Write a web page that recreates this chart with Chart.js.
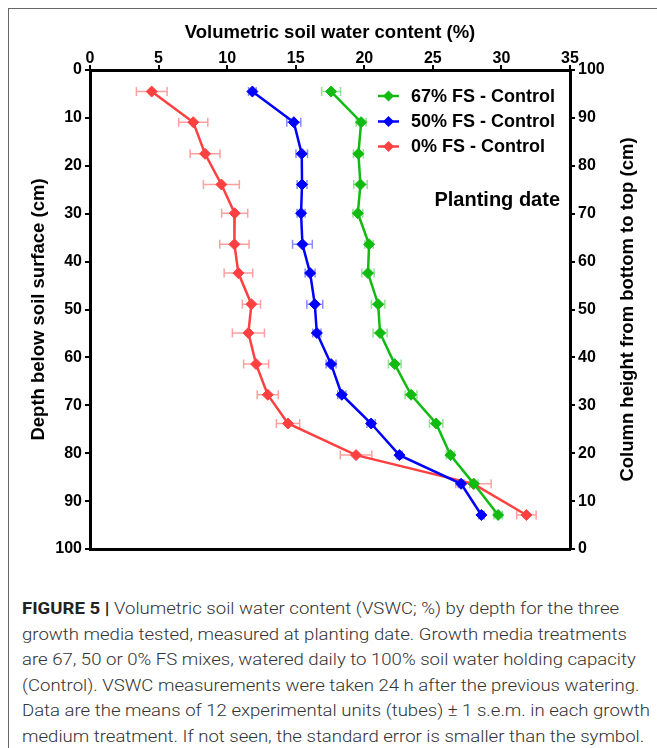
<!DOCTYPE html>
<html>
<head>
<meta charset="utf-8">
<script src="https://cdn.jsdelivr.net/npm/chart.js@4/dist/chart.umd.min.js"></script>
<style>
  html, body { margin: 0; padding: 0; background: #fff; }
  body { width: 657px; height: 748px; position: relative; overflow: hidden; }
  #frame { position: absolute; left: 8px; top: 8px; width: 700px; height: 800px; border-left: 1.5px solid #666; border-top: 1.5px solid #666; }
  #wrap { position: absolute; left: 0; top: 0; width: 657px; height: 580px; }
  #caption { position: absolute; left: 22px; top: 596px; font-family: Roboto, "Liberation Sans", sans-serif; font-weight: 300; font-size: 17px; line-height: 25.5px; color: #333; white-space: nowrap; transform-origin: 0 0; }
  #caption b { font-weight: 700; color: #222; }
</style>
</head>
<body>
<div id="frame"></div>
<div id="wrap"><canvas id="c"></canvas></div>
<div id="caption">
<div><b>FIGURE 5 |</b> Volumetric soil water content (VSWC; %) by depth for the three</div>
<div>growth media tested, measured at planting date. Growth media treatments</div>
<div id="l3">are 67, 50 or 0% FS mixes, watered daily to 100% soil water holding capacity</div>
<div>(Control). VSWC measurements were taken 24 h after the previous watering.</div>
<div>Data are the means of 12 experimental units (tubes) ± 1 s.e.m. in each growth</div>
<div>medium treatment. If not seen, the standard error is smaller than the symbol.</div>
</div>
<script>
// ---- data ----
const depths = [4.5, 10.9, 17.5, 23.9, 29.9, 36.4, 42.4, 48.9, 54.9, 61.4, 67.8, 73.8, 80.4, 86.4, 92.9];
const xTicks = [0, 5, 10, 15, 20, 25, 30, 35];
const depthTicks = [0, 10, 20, 30, 40, 50, 60, 70, 80, 90, 100];

const fs67 = [17.58, 19.77, 19.57, 19.72, 19.53, 20.35, 20.27, 21.01, 21.15, 22.22, 23.41, 25.24, 26.28, 27.99, 29.76];
const fs67Err = [0.69, 0.36, 0.36, 0.49, 0.36, 0.30, 0.45, 0.49, 0.51, 0.46, 0.43, 0.49, 0.30, 0.30, 0.30];

const fs50 = [11.84, 14.86, 15.44, 15.46, 15.39, 15.49, 16.05, 16.39, 16.54, 17.58, 18.36, 20.50, 22.56, 27.06, 28.54];
const fs50Err = [0.28, 0.51, 0.42, 0.36, 0.29, 0.72, 0.36, 0.58, 0.30, 0.36, 0.30, 0.30, 0.20, 0.20, 0.20];

const fs0 = [4.50, 7.53, 8.39, 9.58, 10.55, 10.53, 10.82, 11.77, 11.55, 12.11, 12.96, 14.44, 19.40, 27.96, 31.82];
const fs0Err = [1.12, 1.06, 1.09, 1.31, 0.95, 1.07, 1.04, 0.66, 1.17, 0.91, 0.77, 0.85, 1.15, 1.29, 0.71];

const seriesNames = ['67% FS - Control', '50% FS - Control', '0% FS - Control'];
const annotationText = 'Planting date';
const rightTitle = 'Column height from bottom to top (cm)';

// ---- styling ----
const colors = ['rgb(17,187,17)', 'rgb(0,0,255)', 'rgb(255,64,64)'];
const errColors = ['rgba(17,187,17,0.45)', 'rgba(0,0,255,0.45)', 'rgba(255,64,64,0.5)'];
const FONT = '"Liberation Sans", Arial, Helvetica, sans-serif';

function pts(vals) { return vals.map((v, i) => ({ x: v, y: depths[i] })); }
const values = [fs67, fs50, fs0];
const errs = [fs67Err, fs50Err, fs0Err];

const datasets = values.map((vals, k) => ({
  label: seriesNames[k],
  data: pts(vals),
  errors: errs[k],
  showLine: true,
  borderColor: colors[k],
  backgroundColor: colors[k],
  borderWidth: 2.5,
  pointStyle: 'rectRot',
  pointRadius: 5.5,
  pointBorderWidth: 1,
  pointBackgroundColor: colors[k],
  pointBorderColor: colors[k],
  xAxisID: 'x', yAxisID: 'y'
}));

const errorBars = {
  id: 'errorBars',
  beforeDatasetsDraw(chart) {
    const ctx = chart.ctx, xs = chart.scales.x, ys = chart.scales.y;
    ctx.save();
    chart.data.datasets.forEach((ds, k) => {
      ctx.strokeStyle = errColors[k];
      ctx.lineWidth = 1.5;
      ds.data.forEach((p, i) => {
        const e = ds.errors[i];
        const x1 = xs.getPixelForValue(p.x - e), x2 = xs.getPixelForValue(p.x + e);
        const y = ys.getPixelForValue(p.y);
        ctx.beginPath();
        ctx.moveTo(x1, y); ctx.lineTo(x2, y);
        ctx.moveTo(x1, y - 4.5); ctx.lineTo(x1, y + 4.5);
        ctx.moveTo(x2, y - 4.5); ctx.lineTo(x2, y + 4.5);
        ctx.stroke();
      });
    });
    ctx.restore();
  }
};

const customLegend = {
  id: 'customLegend',
  afterDraw(chart) {
    const ctx = chart.ctx;
    ctx.save();
    const rowY = [96, 121.5, 146.5];
    chart.data.datasets.forEach((ds, k) => {
      const y = rowY[k];
      ctx.strokeStyle = colors[k]; ctx.lineWidth = 2.5;
      ctx.beginPath(); ctx.moveTo(378, y); ctx.lineTo(399, y); ctx.stroke();
      ctx.fillStyle = colors[k];
      ctx.beginPath();
      ctx.moveTo(388.5, y - 5.5); ctx.lineTo(394, y); ctx.lineTo(388.5, y + 5.5); ctx.lineTo(383, y);
      ctx.closePath(); ctx.fill();
      ctx.fillStyle = '#000';
      ctx.font = 'bold 18px ' + FONT;
      ctx.textBaseline = 'middle'; ctx.textAlign = 'left';
      ctx.fillText(ds.label, 411, y + 1);
    });
    ctx.font = 'bold 20px ' + FONT;
    ctx.textAlign = 'right'; ctx.textBaseline = 'middle';
    ctx.fillText(annotationText, 560, 200);
    // right axis title, reading bottom-to-top
    const ca = chart.chartArea;
    ctx.translate(628, (ca.top + ca.bottom) / 2);
    ctx.rotate(-Math.PI / 2);
    ctx.font = 'bold 18.5px ' + FONT;
    ctx.textAlign = 'center'; ctx.textBaseline = 'middle';
    ctx.fillText(rightTitle, 0, 0);
    ctx.restore();
  }
};

const tickFont = { family: FONT, size: 16, weight: 'bold' };
const titleFont = { family: FONT, size: 18.5, weight: 'bold' };
const gridOpts = { drawOnChartArea: false, drawTicks: true, tickLength: 5, color: '#000', lineWidth: 2 };
const borderOpts = { color: '#000', width: 3 };

new Chart(document.getElementById('c'), {
  type: 'scatter',
  data: { datasets },
  plugins: [errorBars, customLegend],
  options: {
    responsive: true,
    maintainAspectRatio: false,
    animation: false,
    layout: { padding: 0 },
    plugins: { legend: { display: false }, tooltip: { enabled: false } },
    scales: {
      x: {
        type: 'linear', position: 'top', min: 0, max: 35,
        afterBuildTicks: s => { s.ticks = xTicks.map(v => ({ value: v })); },
        afterFit: s => { s.height = 70; },
        ticks: { font: tickFont, color: '#000', padding: -3 },
        grid: gridOpts, border: borderOpts,
        title: { display: true, text: 'Volumetric soil water content (%)', font: titleFont, color: '#000', padding: { top: 22 } }
      },
      x2: {
        type: 'linear', position: 'bottom', min: 0, max: 35,
        afterFit: s => { s.height = 31; },
        ticks: { display: false }, grid: { display: false }, border: borderOpts
      },
      y: {
        type: 'linear', position: 'left', min: 0, max: 100, reverse: true,
        afterBuildTicks: s => { s.ticks = depthTicks.map(v => ({ value: v })); },
        afterFit: s => { s.width = 90; },
        ticks: { font: tickFont, color: '#000', padding: 3 },
        grid: gridOpts, border: borderOpts,
        title: { display: true, text: 'Depth below soil surface (cm)', font: titleFont, color: '#000', padding: { top: 28 } }
      },
      y2: {
        type: 'linear', position: 'right', min: 0, max: 100,
        afterBuildTicks: s => { s.ticks = depthTicks.map(v => ({ value: v })); },
        afterFit: s => { s.width = 87; },
        ticks: { font: tickFont, color: '#000', padding: 3 },
        grid: gridOpts, border: borderOpts,
        title: { display: false }
      }
    }
  }
});

// fit caption width to the figure text block
(function () {
  const cap = document.getElementById('caption');
  const l3 = document.getElementById('l3');
  const w = l3.getBoundingClientRect().width;
  const s = 628 / w;
  cap.style.transform = 'scaleX(' + s + ')';
})();
</script>
</body>
</html>
